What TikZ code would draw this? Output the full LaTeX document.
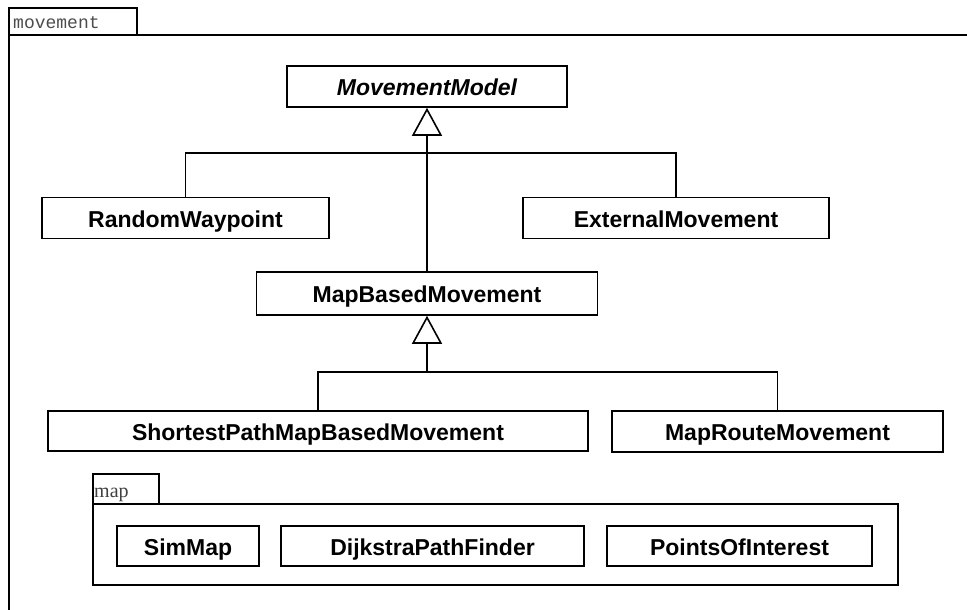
\documentclass[tikz,border=0pt]{standalone}
\usepackage{fontspec}
\setmainfont{Liberation Sans}
\newfontfamily\pkgmono{Liberation Mono}
\newfontfamily\pkgserif{Liberation Serif}
\usetikzlibrary{arrows.meta}
\begin{document}
\begin{tikzpicture}[x=1pt,y=-1pt,
  umlline/.style={line width=1.6pt},
  classbox/.style={draw, line width=1.6pt, inner sep=0pt, minimum height=41pt,
    text height=18pt, text depth=0pt,
    font=\fontsize{23}{27}\selectfont\bfseries},
  inherit/.style={umlline, -{Triangle[open,length=28pt,width=30pt]}},
  pkglabel/.style={anchor=base west, inner sep=0pt}]
\useasboundingbox (0,0) rectangle (967,610);
\clip (0,0) rectangle (967,610);

% package "movement": tab and body (body runs past the page edges)
\draw[umlline] (9,8) rectangle (137,35);
\draw[umlline] (9,640) -- (9,35) -- (1000,35);
\node[pkglabel, font=\pkgmono\fontsize{18}{20}\selectfont, text=black!70] (pkgmove) at (13,28.5) {movement};

% classes
\node[classbox, minimum width=280pt, font=\fontsize{23}{27}\selectfont\bfseries\itshape] (mm) at (427,86.5) {MovementModel};
\node[classbox, minimum width=287pt] (rw) at (185.5,218) {RandomWaypoint};
\node[classbox, minimum width=306pt] (ext) at (676,218) {ExternalMovement};
\node[classbox, minimum width=341pt, minimum height=43pt] (mbm) at (427,293.5) {MapBasedMovement};
\node[classbox, minimum width=540pt, minimum height=40pt] (spm) at (318,431) {ShortestPathMapBasedMovement};
\node[classbox, minimum width=331pt] (mrm) at (777.5,431.5) {MapRouteMovement};

% generalisation to MovementModel
\coordinate (bus1) at (427,153);
\draw[umlline] (rw.north) |- (bus1) -| (ext.north);
\draw[inherit] (mbm.north) -- (mm.south);

% generalisation to MapBasedMovement
\coordinate (bus2) at (427,372);
\draw[umlline] (spm.north) |- (bus2) -| (mrm.north);
\draw[inherit] (bus2) -- (mbm.south);

% package "map"
\draw[umlline] (93,474) rectangle (159,504);
\draw[umlline] (93,504) rectangle (898,585);
\node[pkglabel, font=\pkgserif\fontsize{20}{22}\selectfont, text=black!75] (pkgmap) at (94,497) {map};

\node[classbox, minimum width=142pt, minimum height=40pt] (sim) at (188,546) {SimMap};
\node[classbox, minimum width=303pt, minimum height=40pt] (dij) at (432.5,546) {DijkstraPathFinder};
\node[classbox, minimum width=265pt, minimum height=40pt] (poi) at (739.5,546) {PointsOfInterest};
\end{tikzpicture}
\end{document}
